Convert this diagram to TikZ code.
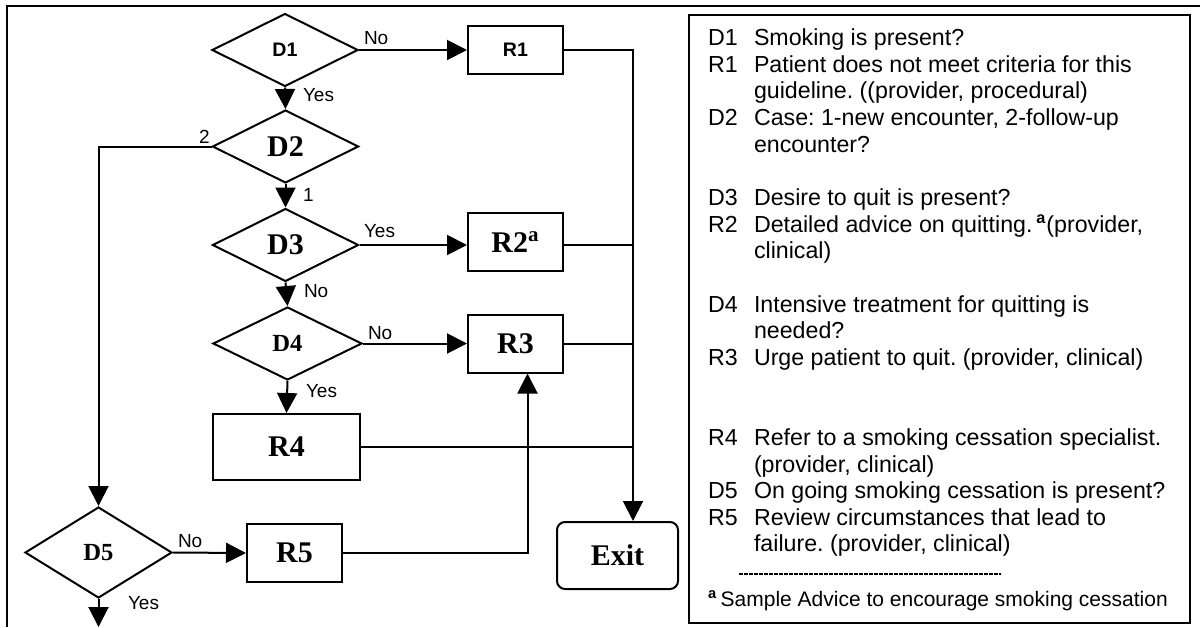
\documentclass[tikz,border=0pt]{standalone}
\usepackage{fontspec}
\setmainfont{Liberation Serif}
\setsansfont{Liberation Sans}
\usepackage{tikz}
\usetikzlibrary{shapes.geometric,arrows.meta,positioning,calc}
\frenchspacing

\begin{document}
\begin{tikzpicture}[x=0.5pt, y=-0.5pt, line width=1pt,
    decision/.style={draw, diamond, aspect=2, inner sep=0pt, minimum width=73pt, minimum height=36.5pt},
    result/.style={draw, rectangle, inner sep=0pt, minimum width=47.5pt, minimum height=29pt},
    arr/.style={-{Triangle[length=10pt,width=10pt]}},
    sansbf/.style={font=\sffamily\bfseries\fontsize{9.8}{11}\selectfont},
    serifbf/.style={font=\rmfamily\bfseries\fontsize{15}{17}\selectfont},
    serifsm/.style={font=\rmfamily\bfseries\fontsize{12.3}{14}\selectfont},
    branch/.style={font=\sffamily\fontsize{9.5}{11}\selectfont, anchor=base west, inner sep=0pt},
    keytext/.style={font=\sffamily\fontsize{11.6}{13.3}\selectfont, anchor=base west, inner sep=0pt}]
    \useasboundingbox (0,0) rectangle (1200,627);

    % outer frame (cut off on the right and below)
    \draw (1200,6) -- (7,6) -- (7,627);

    % decisions
    \node[decision, sansbf] (d1) at (285,50) {D1};
    \node[decision, serifbf] (d2) at (285.5,146.5) {D2};
    \node[decision, serifbf] (d3) at (285.5,245) {D3};
    \node[decision, serifsm, minimum width=74.5pt] (d4) at (287.5,343.5) {D4};
    \node[decision, serifsm, minimum width=73.5pt, minimum height=45.5pt] (d5) at (98.5,552.5) {D5};

    % results
    \node[result, sansbf, minimum height=24pt] (r1) at (515.5,50) {R1};
    \node[result, serifbf] (r2) at (515.5,242) {R2\textsuperscript{a}};
    \node[result, serifbf] (r3) at (515.5,343.5) {R3};
    \node[result, serifbf, minimum width=73.5pt, minimum height=33pt] (r4) at (286.5,447) {R4};
    \node[result, serifbf] (r5) at (294.5,553) {R5};
    \node[draw, rounded corners=4pt, serifbf, minimum width=60.5pt, minimum height=33.5pt] (ex) at (617.5,555.5) {Exit};

    % junctions
    \coordinate (j1) at (633,50);
    \coordinate (d5out) at (98.5,627);

    % main line
    \draw[arr] (d1.east) -- (r1.west);
    \draw[arr] (d1.south) -- (d2.north);
    \draw[arr] (d2.south) -- (d3.north);
    \draw[arr] (d2.west) -| (d5.north);
    \draw[arr] (d3.east) -- (d3.east -| r2.west);
    \draw[arr] (d3.south) -- (d4.north);
    \draw[arr] (d4.east) -- (r3.west);
    \draw[arr] (d4.south) -- (r4.north);
    \draw[arr] (d5.east) -- (r5.west);
    \draw[arr] (d5.south) -- (d5out);
    \draw[arr] (r5.east) -| ([xshift=6pt]r3.south);

    % to exit
    \draw[arr] (r1.east) -- (j1) -- (j1 |- ex.north);
    \draw (d3.east -| r2.east) -- (d3.east -| j1);
    \draw (r3.east) -- (r3.east -| j1);
    \draw (r4.east) -- (r4.east -| j1);

    % branch labels
    \node[branch] (l1) at (363,44) {No};
    \node[branch] (l2) at (302,101) {Yes};
    \node[branch] (l3) at (198,143) {2};
    \node[branch] (l4) at (302,201) {1};
    \node[branch] (l5) at (363,237) {Yes};
    \node[branch] (l6) at (303,297) {No};
    \node[branch] (l7) at (367,339) {No};
    \node[branch] (l8) at (305,397) {Yes};
    \node[branch] (l9) at (177,547) {No};
    \node[branch] (l10) at (127,609) {Yes};

    % legend
    \draw (689,15) rectangle (1190,623);
    \node[keytext] (k1) at (707,45.6) {D1};
    \node[keytext] (t1) at (753,45.6) {Smoking is present?};
    \node[keytext] (k2) at (707,72.25) {R1};
    \node[keytext] (t2) at (753,72.25) {Patient does not meet criteria for this};
    \node[keytext] (t2b) at (753,98.9) {guideline. ((provider, procedural)};
    \node[keytext] (k3) at (707,125.55) {D2};
    \node[keytext] (t3) at (753,125.55) {Case: 1-new encounter, 2-follow-up};
    \node[keytext] (t3b) at (753,152.2) {encounter?};
    \node[keytext] (k4) at (707,205.5) {D3};
    \node[keytext] (t4) at (753,205.5) {Desire to quit is present?};
    \node[keytext] (k5) at (707,232.15) {R2};
    \node[keytext] (t5) at (753,232.15) {Detailed advice on quitting.\,\textsuperscript{\bfseries a}(provider,};
    \node[keytext] (t5b) at (753,258.8) {clinical)};
    \node[keytext] (k6) at (707,312.1) {D4};
    \node[keytext] (t6) at (753,312.1) {Intensive treatment for quitting is};
    \node[keytext] (t6b) at (753,338.75) {needed?};
    \node[keytext] (k7) at (707,365.4) {R3};
    \node[keytext] (t7) at (753,365.4) {Urge patient to quit. (provider, clinical)};
    \node[keytext] (k8) at (707,445.35) {R4};
    \node[keytext] (t8) at (753,445.35) {Refer to a smoking cessation specialist.};
    \node[keytext] (t8b) at (753,472) {(provider, clinical)};
    \node[keytext] (k9) at (707,498.65) {D5};
    \node[keytext] (t9) at (753,498.65) {On going smoking cessation is present?};
    \node[keytext] (k10) at (707,525.3) {R5};
    \node[keytext] (t10) at (753,525.3) {Review circumstances that lead to};
    \node[keytext] (t10b) at (753,551.95) {failure. (provider, clinical)};
    \draw[line width=0.7pt, dash pattern=on 2pt off 0.5pt] (739,574) -- (1001,574);
    \node[keytext, font=\sffamily\fontsize{10.5}{12}\selectfont] (fn) at (707,606) {\textsuperscript{\bfseries a}\,Sample Advice to encourage smoking cessation};
\end{tikzpicture}
\end{document}
